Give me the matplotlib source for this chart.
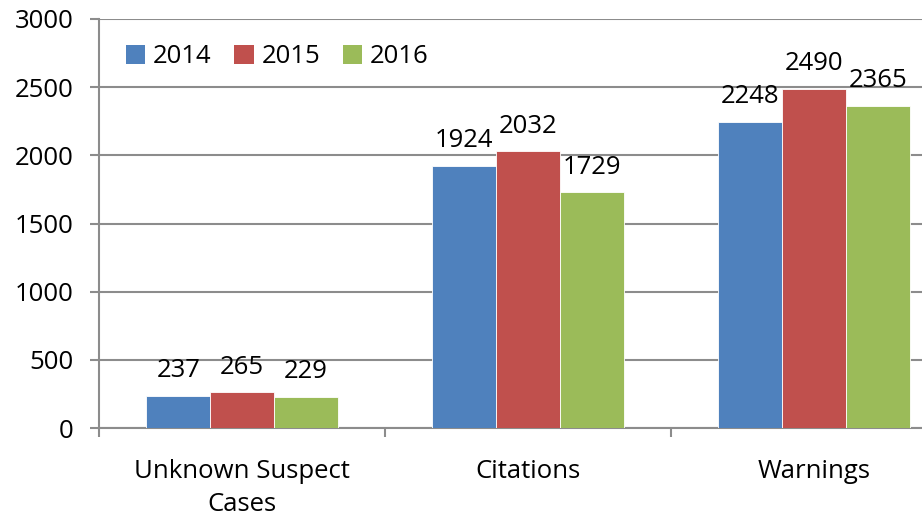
import matplotlib
matplotlib.use("Agg")
import matplotlib.pyplot as plt
from matplotlib.patches import Patch
import numpy as np

categories = ["Unknown Suspect\nCases", "Citations", "Warnings"]
years = ["2014", "2015", "2016"]
values_2014 = [237, 1924, 2248]
values_2015 = [265, 2032, 2490]
values_2016 = [229, 1729, 2365]
yticks = [0, 500, 1000, 1500, 2000, 2500, 3000]

series = [values_2014, values_2015, values_2016]
colors = ["#4F81BD", "#C0504D", "#9BBB59"]

plt.rcParams['font.family'] = ['Open Sans', 'DejaVu Sans']
FS = 18.5

fig = plt.figure(figsize=(9.22, 5.18), dpi=100)
ax = fig.add_axes([99/922, 90/518, 858/922, 409/518])

bw = 0.223
x = np.arange(len(categories)) + 0.5
for j, (vals, c) in enumerate(zip(series, colors)):
    pos = x + (j - 1) * bw
    ax.bar(pos, vals, width=bw, color=c, edgecolor='white', linewidth=0.6, zorder=3)
    for p, v in zip(pos, vals):
        ax.annotate(str(v), (p, v), xytext=(0, 13.2), textcoords='offset points',
                    ha='center', va='baseline', fontsize=FS, color='black', zorder=4)

ax.set_xlim(0, 3)
ax.set_ylim(0, 3000)
ax.set_yticks(yticks)
ax.set_yticklabels([str(t) for t in yticks], fontsize=FS)
ax.yaxis.grid(True, color='#8c8c8c', linewidth=1.5, zorder=0)
ax.set_axisbelow(True)

ax.set_xticks([0, 1, 2, 3])
ax.set_xticklabels([])
ax.set_xticks(x, minor=True)
ax.set_xticklabels(categories, minor=True, fontsize=FS, linespacing=1.45)
ax.tick_params(axis='x', which='minor', length=0, pad=22)
ax.tick_params(axis='x', which='major', length=6.5, width=1.5, color='#8c8c8c', direction='out')
ax.tick_params(axis='y', length=6.5, width=1.5, color='#8c8c8c', direction='out', pad=12)

for s in ['top', 'right']:
    ax.spines[s].set_visible(False)
for s in ['left', 'bottom']:
    ax.spines[s].set_color('#8c8c8c')
    ax.spines[s].set_linewidth(1.5)

handles = [Patch(facecolor=c, edgecolor='none') for c in colors]
leg = ax.legend(handles, years, loc='upper left', bbox_to_anchor=(0.004, 0.995), ncol=3,
                frameon=False, fontsize=FS, handlelength=0.75, handleheight=0.75,
                handletextpad=0.3, columnspacing=0.9)

fig.savefig("out.png", dpi=100)
